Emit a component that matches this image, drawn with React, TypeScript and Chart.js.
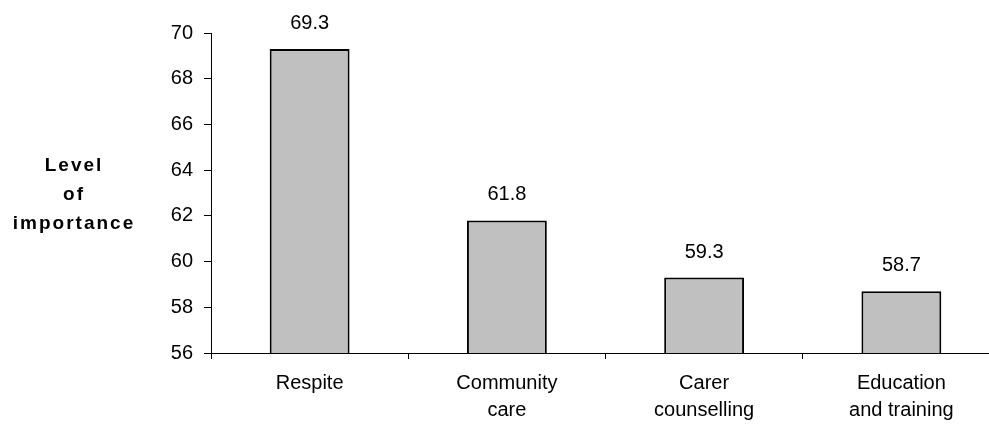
import { useEffect, useRef } from "react";
import { Chart, registerables } from "chart.js";

Chart.register(...registerables);

// Services and their mean importance scores
const categories: string[][] = [
  ["Respite"],
  ["Community", "care"],
  ["Carer", "counselling"],
  ["Education", "and training"],
];
const importance: number[] = [69.3, 61.8, 59.3, 58.7];

const yMin = 56;
const yMax = 70;
const yStep = 2;
const axisTitleLines: string[] = ["Level", "of", "importance"];

const FONT = "'Liberation Sans', Arial, Helvetica, sans-serif";

// Writes each bar's value a fixed distance above its top edge
const valueLabels = {
  id: "valueLabels",
  afterDatasetsDraw(chart: any) {
    const ctx = chart.ctx as CanvasRenderingContext2D;
    const meta = chart.getDatasetMeta(0);
    ctx.save();
    ctx.font = `20px ${FONT}`;
    ctx.fillStyle = "#000";
    ctx.textAlign = "center";
    ctx.textBaseline = "alphabetic";
    meta.data.forEach((bar: any, i: number) => {
      ctx.fillText(importance[i].toFixed(1), bar.x, bar.y - 20);
    });
    ctx.restore();
  },
};

// Bold vertical-axis caption stacked on three lines
const sideTitle = {
  id: "sideTitle",
  afterDraw(chart: any) {
    const ctx = chart.ctx as CanvasRenderingContext2D;
    const { chartArea } = chart;
    const mid = (chartArea.top + chartArea.bottom) / 2;
    const spacing = 2;
    ctx.save();
    ctx.font = `bold 19px ${FONT}`;
    (ctx as any).letterSpacing = `${spacing}px`;
    ctx.fillStyle = "#000";
    ctx.textAlign = "center";
    ctx.textBaseline = "alphabetic";
    const x = chartArea.left - 138 + spacing / 2;
    const lineGap = 29;
    axisTitleLines.forEach((line, i) => {
      ctx.fillText(line, x, mid - 22 + i * lineGap);
    });
    ctx.restore();
  },
};

export default function App() {
  const canvasRef = useRef<HTMLCanvasElement | null>(null);

  useEffect(() => {
    const canvas = canvasRef.current;
    if (!canvas) return;
    const chart = new Chart(canvas, {
      type: "bar",
      data: {
        labels: categories,
        datasets: [
          {
            data: importance,
            backgroundColor: "#C0C0C0",
            borderColor: "#000",
            borderWidth: 2,
            barPercentage: 0.405,
            categoryPercentage: 1,
          },
        ],
      },
      options: {
        responsive: false,
        animation: false,
        devicePixelRatio: 1,
        layout: { padding: { top: 33, left: 0, right: 0, bottom: 0 } },
        plugins: {
          legend: { display: false },
          tooltip: { enabled: false },
          title: { display: false },
        },
        scales: {
          x: {
            offset: true,
            grid: {
              display: true,
              drawOnChartArea: false,
              drawTicks: true,
              tickLength: 6,
              color: "#000",
              offset: true,
            },
            border: { display: true, color: "#000", width: 1 },
            ticks: {
              color: "#000",
              font: { family: FONT, size: 20, lineHeight: 1.35 },
              padding: 11,
              maxRotation: 0,
              autoSkip: false,
            },
            afterFit(scale: any) {
              scale.height = 72;
            },
          },
          y: {
            min: yMin,
            max: yMax,
            grid: {
              display: true,
              drawOnChartArea: false,
              drawTicks: true,
              tickLength: 7,
              color: "#000",
            },
            border: { display: true, color: "#000", width: 1 },
            ticks: {
              stepSize: yStep,
              color: "#000",
              font: { family: FONT, size: 20 },
              padding: 11,
            },
            afterFit(scale: any) {
              scale.width = 211;
            },
          },
        },
      },
      plugins: [valueLabels, sideTitle],
    });
    return () => chart.destroy();
  }, []);

  return (
    <div
      style={{
        position: "fixed",
        left: 0,
        top: 0,
        width: 989,
        height: 425,
        overflow: "hidden",
        background: "#fff",
      }}
    >
      <canvas ref={canvasRef} width={1000} height={425} style={{ display: "block" }} />
    </div>
  );
}
